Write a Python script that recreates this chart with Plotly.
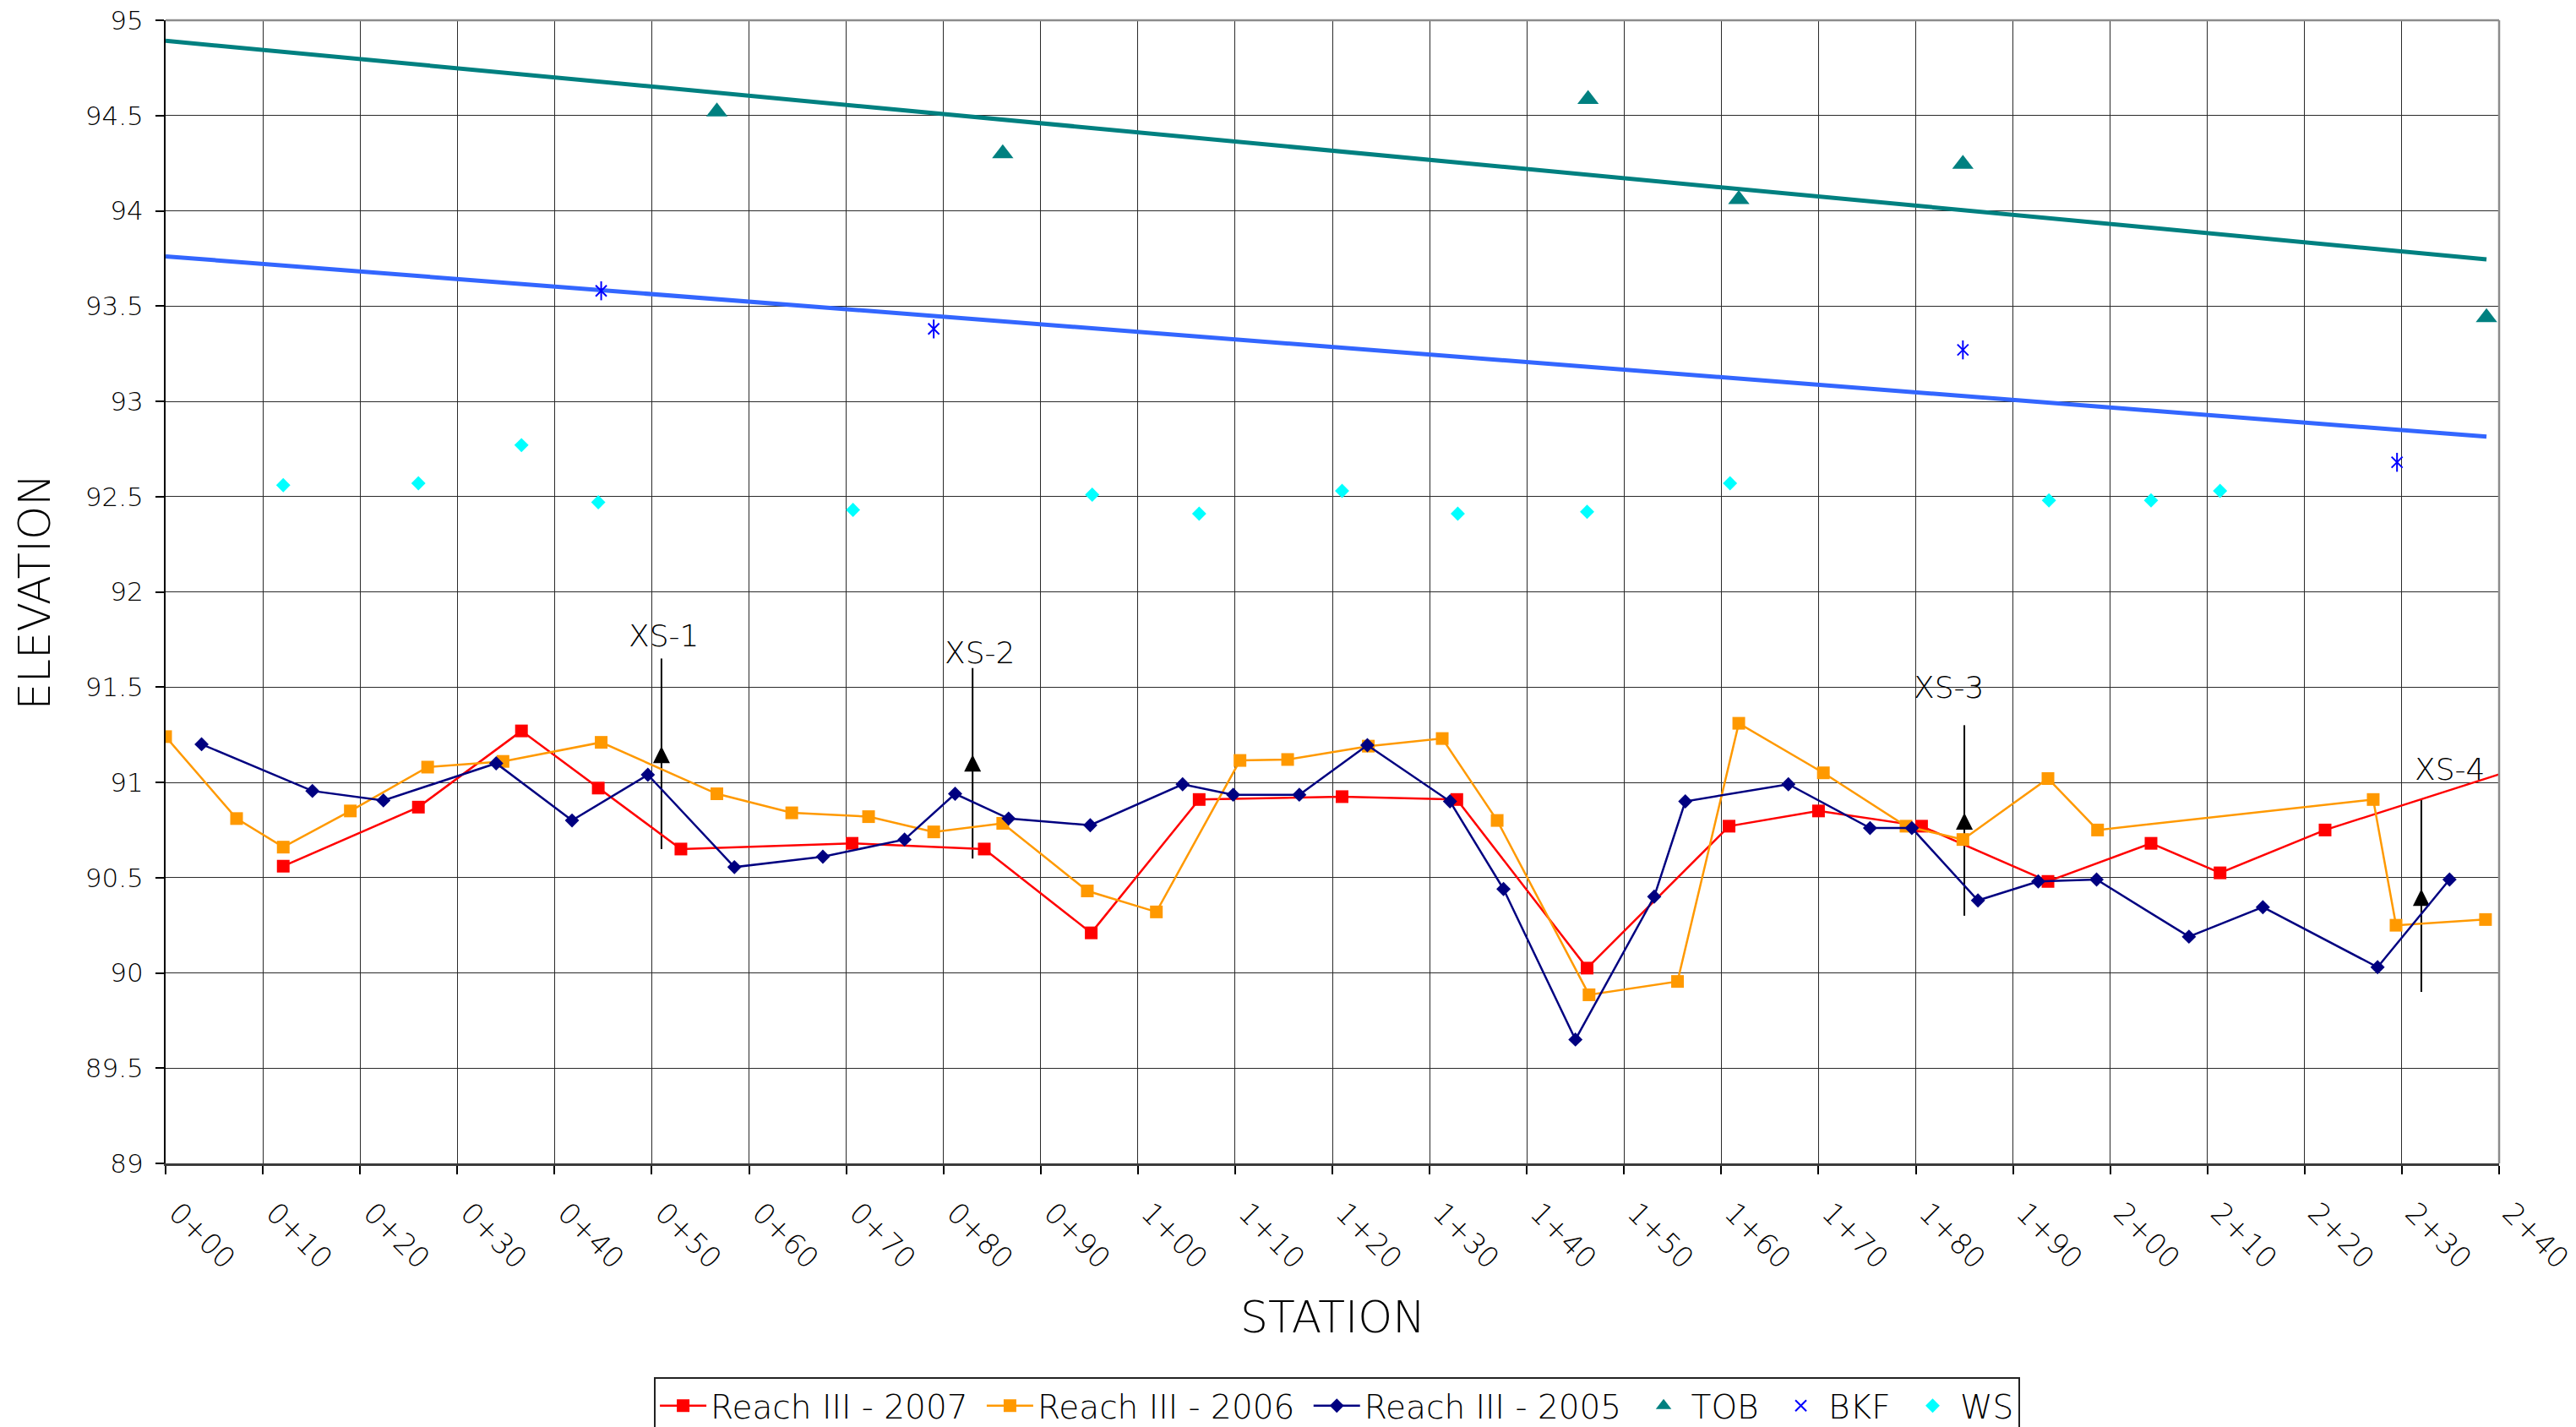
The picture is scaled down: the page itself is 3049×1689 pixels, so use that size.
import numpy as np
import plotly.graph_objects as go

# ---------------- data (station in feet, elevation in feet) ----------------
station_ticks = [0, 10, 20, 30, 40, 50, 60, 70, 80, 90, 100, 110, 120,
                 130, 140, 150, 160, 170, 180, 190, 200, 210, 220, 230, 240]
station_labels = ["0+00", "0+10", "0+20", "0+30", "0+40", "0+50", "0+60",
                  "0+70", "0+80", "0+90", "1+00", "1+10", "1+20", "1+30",
                  "1+40", "1+50", "1+60", "1+70", "1+80", "1+90", "2+00",
                  "2+10", "2+20", "2+30", "2+40"]

reach_2007_x = [12.1, 26.0, 36.6, 44.5, 53.0, 70.6, 84.2, 95.2, 106.3, 121.0,
                132.8, 146.2, 160.8, 170.0, 180.6, 193.6, 204.2, 211.3, 222.1, 246.0]
reach_2007_y = [90.56, 90.87, 91.27, 90.97, 90.65, 90.68, 90.65, 90.21, 90.91, 90.925,
                90.91, 90.025, 90.77, 90.85, 90.77, 90.48, 90.68, 90.525, 90.75, 91.14]

reach_2006_x = [0.0, 7.3, 12.1, 19.0, 26.95, 34.7, 44.8, 56.7, 64.4, 72.3,
                79.0, 86.1, 94.8, 101.9, 110.5, 115.4, 123.7, 131.3, 136.95, 146.4,
                155.5, 161.8, 170.5, 179.0, 184.85, 193.6, 198.7, 227.05, 229.4, 238.6]
reach_2006_y = [91.24, 90.81, 90.66, 90.85, 91.08, 91.11, 91.21, 90.94, 90.84, 90.82,
                90.74, 90.785, 90.43, 90.32, 91.115, 91.12, 91.19, 91.23, 90.80, 89.885,
                89.955, 91.31, 91.05, 90.77, 90.70, 91.02, 90.75, 90.91, 90.25, 90.28]

reach_2005_x = [3.7, 15.1, 22.4, 34.0, 41.8, 49.6, 58.5, 67.6, 76.0, 81.2,
                86.7, 95.1, 104.6, 109.8, 116.6, 123.6, 132.1, 137.6, 145.0, 153.1,
                156.3, 166.9, 175.3, 179.6, 186.4, 192.6, 198.6, 208.1, 215.7, 227.5, 234.9]
reach_2005_y = [91.20, 90.955, 90.905, 91.10, 90.80, 91.04, 90.555, 90.61, 90.70, 90.94,
                90.81, 90.775, 90.99, 90.935, 90.935, 91.195, 90.90, 90.44, 89.65, 90.40,
                90.90, 90.99, 90.76, 90.76, 90.38, 90.48, 90.49, 90.19, 90.345, 90.03, 90.49]

tob_x = [56.7, 86.1, 146.3, 161.8, 184.85, 238.7]
tob_y = [94.52, 94.30, 94.585, 94.06, 94.245, 93.44]

bkf_x = [44.8, 79.0, 184.85, 229.5]
bkf_y = [93.58, 93.38, 93.27, 92.68]

ws_x = [12.1, 26.0, 36.6, 44.5, 70.7, 95.3, 106.3, 121.0, 132.9, 146.2,
        160.9, 193.7, 204.2, 211.3]
ws_y = [92.56, 92.57, 92.77, 92.47, 92.43, 92.51, 92.41, 92.53, 92.41, 92.42,
        92.57, 92.48, 92.48, 92.53]

# linear trend lines drawn across this station span
trend_span = [0.0, 238.7]

# cross-section markers: station, arrow bottom, arrow tip, arrow top, label position
xs_names = ["XS-1", "XS-2", "XS-3", "XS-4"]
xs_station = [51.0, 83.0, 185.0, 232.0]
xs_bottom = [90.65, 90.60, 90.30, 89.90]
xs_tip = [91.19, 91.145, 90.84, 90.44]
xs_top = [91.65, 91.60, 91.30, 90.91]
xs_label_x = [51.2, 83.7, 183.4, 234.9]
xs_label_y = [91.77, 91.68, 91.50, 91.07]

FONT = "DejaVu Sans"
TXT = dict(family=FONT, color="#000000", weight=200)
PAD = "\u00a0"  # small gap after each legend entry

fig = go.Figure()

# trend lines (least-squares fit of TOB and BKF points)
for px, py, col in [(tob_x, tob_y, "#008080"), (bkf_x, bkf_y, "#3366FF")]:
    slope, icpt = np.polyfit(px, py, 1)
    tx = np.array(trend_span)
    fig.add_trace(go.Scatter(x=tx, y=icpt + slope * tx, mode="lines",
                             line=dict(color=col, width=5), showlegend=False,
                             hoverinfo="skip"))

# cross-section indicator lines
vx, vy = [], []
for s, b, t in zip(xs_station, xs_bottom, xs_top):
    vx += [s, s, None]
    vy += [b, t, None]
fig.add_trace(go.Scatter(x=vx, y=vy, mode="lines", line=dict(color="#000000", width=2),
                         showlegend=False, hoverinfo="skip"))
fig.add_trace(go.Scatter(x=xs_station, y=xs_tip, mode="markers",
                         marker=dict(symbol="arrow-up", size=20, color="#000000",
                                     line=dict(width=0)),
                         showlegend=False, hoverinfo="skip"))

# surveyed profiles
fig.add_trace(go.Scatter(x=reach_2007_x, y=reach_2007_y, mode="lines+markers",
                         name="Reach III - 2007" + PAD,
                         line=dict(color="#FF0000", width=2.5),
                         marker=dict(symbol="square", size=15, color="#FF0000")))
fig.add_trace(go.Scatter(x=reach_2006_x, y=reach_2006_y, mode="lines+markers",
                         name="Reach III - 2006" + PAD,
                         line=dict(color="#FF9900", width=2.5),
                         marker=dict(symbol="square", size=15, color="#FF9900")))
fig.add_trace(go.Scatter(x=reach_2005_x, y=reach_2005_y, mode="lines+markers",
                         name="Reach III - 2005" + PAD,
                         line=dict(color="#000080", width=2.5),
                         marker=dict(symbol="diamond", size=13, color="#000080")))

fig.add_trace(go.Scatter(x=tob_x, y=tob_y, mode="markers", name="TOB" + PAD,
                         marker=dict(symbol="triangle-up", size=22, color="#008080")))
fig.add_trace(go.Scatter(x=bkf_x, y=bkf_y, mode="markers", name="BKF" + PAD,
                         marker=dict(symbol="x-thin-open", size=13, color="#0000FF",
                                     line=dict(color="#0000FF", width=2))))
fig.add_trace(go.Scatter(x=bkf_x, y=bkf_y, mode="markers", showlegend=False,
                         hoverinfo="skip",
                         marker=dict(symbol="line-ns-open", size=16, color="#0000FF",
                                     line=dict(color="#0000FF", width=2))))
fig.add_trace(go.Scatter(x=ws_x, y=ws_y, mode="markers", name="WS",
                         marker=dict(symbol="diamond", size=13, color="#00FFFF")))

annotations = []
for name, lx, ly in zip(xs_names, xs_label_x, xs_label_y):
    annotations.append(dict(x=lx, y=ly, xref="x", yref="y", text=name, showarrow=False,
                            font=dict(size=36, **TXT), xanchor="center", yanchor="middle"))
annotations.append(dict(x=0.5, y=-0.1345, xref="paper", yref="paper", text="STATION",
                        showarrow=False, font=dict(size=52, **TXT),
                        xanchor="center", yanchor="middle"))
annotations.append(dict(x=-0.0561, y=0.5, xref="paper", yref="paper", text="ELEVATION",
                        showarrow=False, textangle=-90, font=dict(size=51, **TXT),
                        xanchor="center", yanchor="middle"))

shapes = [
    dict(type="line", xref="paper", yref="paper", x0=0, x1=1, y0=1, y1=1,
         line=dict(color="#8c8c8c", width=2.5), layer="above"),
    dict(type="line", xref="paper", yref="paper", x0=1, x1=1, y0=0, y1=1,
         line=dict(color="#8c8c8c", width=2.5), layer="above"),
]

fig.update_layout(
    width=3049, height=1689,
    margin=dict(l=196, r=91, t=24, b=312, autoexpand=False),
    paper_bgcolor="#FFFFFF", plot_bgcolor="#FFFFFF",
    font=dict(size=30, **TXT),
    showlegend=True,
    legend=dict(orientation="h", x=0.2093, xanchor="left", y=-0.1869, yanchor="top",
                font=dict(size=39, **TXT), bordercolor="#222222", borderwidth=2,
                bgcolor="#FFFFFF", itemwidth=55, tracegroupgap=0),
    annotations=annotations,
    shapes=shapes,
)

fig.update_xaxes(range=[0, 240], tickmode="array", tickvals=station_ticks,
                 ticktext=station_labels, tickangle=45,
                 tickfont=dict(size=34, **TXT),
                 showgrid=True, gridcolor="#2a2a2a", gridwidth=1,
                 showline=True, linecolor="#3a3a3a", linewidth=3,
                 ticks="outside", ticklen=10, tickcolor="#000000", tickwidth=1.5,
                 zeroline=False, ticklabelstandoff=12, ticklabelshift=14)
fig.update_yaxes(range=[89, 95], dtick=0.5, tick0=89,
                 tickfont=dict(size=31, **TXT),
                 showgrid=True, gridcolor="#2a2a2a", gridwidth=1,
                 showline=True, linecolor="#000000", linewidth=2,
                 ticks="outside", ticklen=10, tickcolor="#000000", tickwidth=1.5,
                 zeroline=False, ticklabelstandoff=8)

fig.write_html("out.html")
